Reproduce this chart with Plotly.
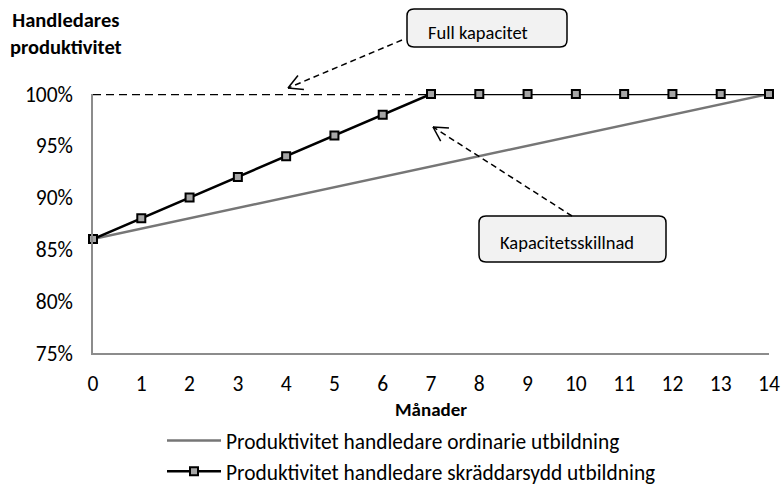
import math
import plotly.graph_objects as go

months = list(range(0, 15))
ordinary = [86, 87, 88, 89, 90, 91, 92, 93, 94, 95, 96, 97, 98, 99, 100]
tailored = [86, 88, 90, 92, 94, 96, 98, 100, 100, 100, 100, 100, 100, 100, 100]
y_ticks = [75, 80, 85, 90, 95, 100]
y_tick_text = ["75%", "80%", "85%", "90%", "95%", "100%"]
x_ticks = list(range(0, 15))
full_capacity_x = [0, 7]
full_capacity_y = [100, 100]

series_names = ["Produktivitet handledare ordinarie utbildning",
                "Produktivitet handledare skräddarsydd utbildning"]

W, H = 781, 485
L, R, T, B = 93, 769, 94, 353
FONT = "Carlito, Lato, sans-serif"


def px(x):
    return (x - L) / (R - L)


def py(y):
    return (B - y) / (B - T)


fig = go.Figure()
fig.add_trace(go.Scatter(x=full_capacity_x, y=full_capacity_y, mode="lines",
                         line=dict(color="#000000", width=2.5, dash="8px,5px"),
                         cliponaxis=False, showlegend=False, hoverinfo="skip"))
fig.add_trace(go.Scatter(x=months, y=ordinary, mode="lines", name=series_names[0],
                         line=dict(color="#767676", width=2.5), cliponaxis=False))
fig.add_trace(go.Scatter(x=months, y=tailored, mode="lines+markers", name=series_names[1],
                         line=dict(color="#000000", width=2.5),
                         marker=dict(symbol="square", size=8, color="#a6a6a6",
                                     line=dict(color="#000000", width=2)),
                         cliponaxis=False))

shapes = []


def rounded_box(x0, y0, x1, y1, r=7):
    path = (f"M {px(x0+r)},{py(y0)} L {px(x1-r)},{py(y0)} "
            f"Q {px(x1)},{py(y0)} {px(x1)},{py(y0+r)} "
            f"L {px(x1)},{py(y1-r)} Q {px(x1)},{py(y1)} {px(x1-r)},{py(y1)} "
            f"L {px(x0+r)},{py(y1)} Q {px(x0)},{py(y1)} {px(x0)},{py(y1-r)} "
            f"L {px(x0)},{py(y0+r)} Q {px(x0)},{py(y0)} {px(x0+r)},{py(y0)} Z")
    return dict(type="path", xref="paper", yref="paper", path=path,
                fillcolor="#f2f2f2", line=dict(color="#000000", width=1.5))


def dashed_arrow(xs, ys, xt, yt):
    out = [dict(type="line", xref="paper", yref="paper",
                x0=px(xs), y0=py(ys), x1=px(xt), y1=py(yt),
                line=dict(color="#000000", width=1.5, dash="6px,4px"))]
    ang = math.atan2(ys - yt, xs - xt)
    for d in (0.5, -0.5):
        a = ang + d
        ex, ey = xt + 16 * math.cos(a), yt + 16 * math.sin(a)
        out.append(dict(type="line", xref="paper", yref="paper",
                        x0=px(xt), y0=py(yt), x1=px(ex), y1=py(ey),
                        line=dict(color="#000000", width=1.5)))
    return out


shapes.append(rounded_box(407, 9, 567, 47))
shapes.append(rounded_box(479, 216, 666, 262))
shapes += dashed_arrow(402, 40, 288, 88)
shapes += dashed_arrow(572, 216, 433, 127)

annotations = [
    dict(text="Full kapacitet", xref="paper", yref="paper", x=px(478), y=py(32),
         xanchor="center", yanchor="middle",
         showarrow=False, font=dict(size=18.5, color="#000", family=FONT)),
    dict(text="Kapacitetsskillnad", xref="paper", yref="paper", x=px(567), y=py(242),
         xanchor="center", yanchor="middle",
         showarrow=False, font=dict(size=18.5, color="#000", family=FONT)),
    dict(text="<b>Handledares<br>produktivitet</b>", xref="paper", yref="paper",
         x=px(66), y=py(33), xanchor="center", yanchor="middle",
         showarrow=False, align="center",
         font=dict(size=20.5, color="#000", family=FONT)),
]

fig.update_layout(
    width=W, height=H,
    margin=dict(l=L, r=W - R, t=T, b=H - B, autoexpand=False),
    plot_bgcolor="white", paper_bgcolor="white",
    font=dict(family=FONT, size=21, color="#000"),
    shapes=shapes, annotations=annotations,
    showlegend=True,
    legend=dict(x=px(162), y=py(420), xanchor="left", yanchor="top",
                orientation="v", itemwidth=54,
                font=dict(size=21.4, family=FONT, color="#000"),
                bgcolor="rgba(0,0,0,0)"),
    xaxis=dict(range=[0, 14], tickmode="array", tickvals=x_ticks,
               showgrid=False, zeroline=False, showline=True, linecolor="#8c8c8c",
               linewidth=1.5, ticks="", ticklabelstandoff=10,
               tickfont=dict(size=21.5),
               title=dict(text="<b>Månader</b>", font=dict(size=19), standoff=7)),
    yaxis=dict(range=[75, 100], tickmode="array", tickvals=y_ticks,
               ticktext=y_tick_text, showgrid=False, zeroline=False, showline=True,
               linecolor="#8c8c8c", linewidth=1.5, ticks="", ticklabelstandoff=14,
               tickfont=dict(size=21.5)),
)

fig.write_html("out.html", config={"displayModeBar": False},
               post_script="document.body.style.margin='0';")
